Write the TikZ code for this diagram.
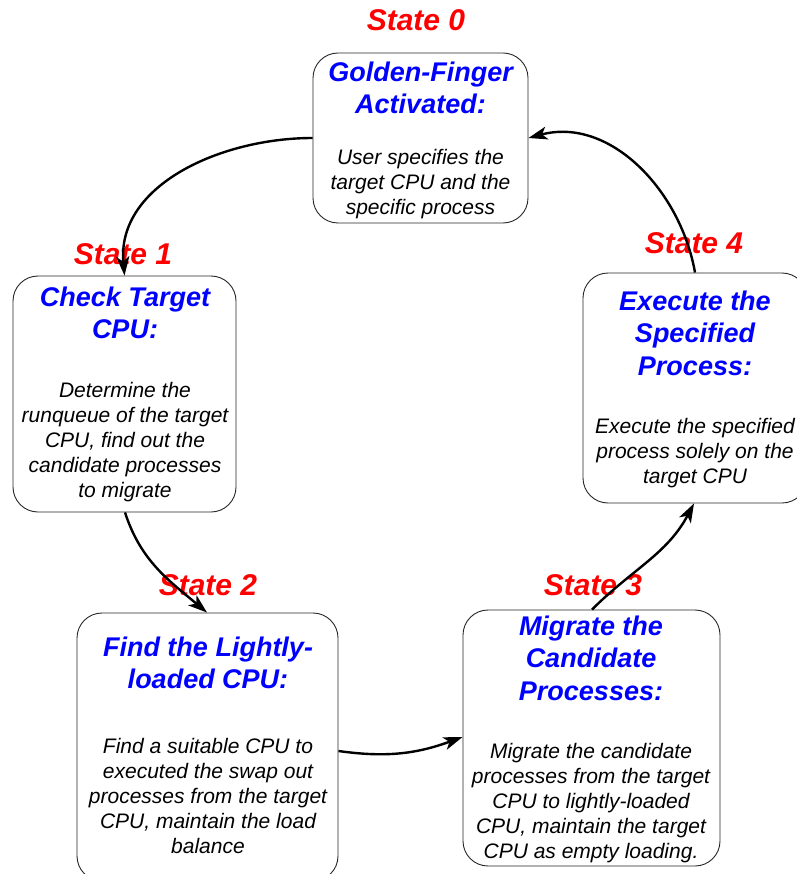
\documentclass[tikz,border=0pt]{standalone}
\usepackage{fontspec}
\setmainfont{Liberation Sans}
\usetikzlibrary{arrows.meta}
\definecolor{titleblue}{RGB}{0,0,255}
\definecolor{statered}{RGB}{255,0,0}
\tikzset{
  statebox/.style={draw=black!85, line width=0.9pt, rounded corners=25pt, fill=white, inner sep=0pt},
  boxtitle/.style={align=center, text=titleblue, inner sep=0pt,
    font=\fontsize{27}{32.5}\selectfont\bfseries\itshape},
  boxbody/.style={align=center, text=black, inner sep=0pt,
    font=\fontsize{21}{25}\selectfont\itshape},
  statelabel/.style={text=statered, inner sep=0pt,
    font=\fontsize{30}{34}\selectfont\bfseries\itshape},
  flow/.style={line width=2.4pt, -{Stealth[length=19pt,width=13pt,inset=5pt]}}
}
\begin{document}
\begin{tikzpicture}[x=1pt,y=-1pt]
\useasboundingbox (0,0) rectangle (796,874);

% state boxes
\node[statebox, minimum width=215pt, minimum height=170pt] (b0) at (420.5,138) {};
\node[statebox, minimum width=223pt, minimum height=236pt] (b1) at (124.5,394) {};
\node[statebox, minimum width=224pt, minimum height=230pt] (b4) at (695,388) {};
\node[statebox, minimum width=261pt, minimum height=268pt] (b2) at (207.5,747) {};
\node[statebox, minimum width=257pt, minimum height=256pt] (b3) at (591.5,738) {};

% state labels
\node[statelabel] (s0) at (416,20) {State 0};
\node[statelabel] (s1) at (123,254) {State 1};
\node[statelabel] (s4) at (694,243) {State 4};
\node[statelabel] (s2) at (208,585) {State 2};
\node[statelabel] (s3) at (593,585) {State 3};

% box contents
\node[boxtitle] (t0) at (420.5,88) {Golden-Finger\\Activated:};
\node[boxbody]  (d0) at (420.5,184) {User specifies the\\target CPU and the\\specific process};

\node[boxtitle] (t1) at (125,313) {Check Target\\CPU:};
\node[boxbody]  (d1) at (125,442) {Determine the\\runqueue of the target\\CPU, find out the\\candidate processes\\to migrate};

\node[boxtitle] (t4) at (695,333) {Execute the\\Specified\\Process:};
\node[boxbody]  (d4) at (695,453) {Execute the specified\\process solely on the\\target CPU};

\node[boxtitle] (t2) at (208,663) {Find the Lightly-\\loaded CPU:};
\node[boxbody]  (d2) at (208,796) {Find a suitable CPU to\\executed the swap out\\processes from the target\\CPU, maintain the load\\balance};

\node[boxtitle] (t3) at (591,658) {Migrate the\\Candidate\\Processes:};
\node[boxbody]  (d3) at (591,803) {Migrate the candidate\\processes from the target\\CPU to lightly-loaded\\CPU, maintain the target\\CPU as empty loading.};

% transitions between states
\draw[flow] (b0.west) to[out=180, in=95] (b1.north);
\draw[flow] ([xshift=0.5pt]b1.south) to[out=-72, in=140] ([xshift=-0.5pt]b2.north);
\draw[flow] ([yshift=-4pt]b2.east) to[out=-8, in=200] ([yshift=1pt]b3.west);
\draw[flow] ([xshift=0.5pt]b3.north) to[out=45, in=-118] ([xshift=-1pt]b4.south);
\draw[flow] (b4.north) to[out=100, in=15] (b0.east);
\end{tikzpicture}
\end{document}
